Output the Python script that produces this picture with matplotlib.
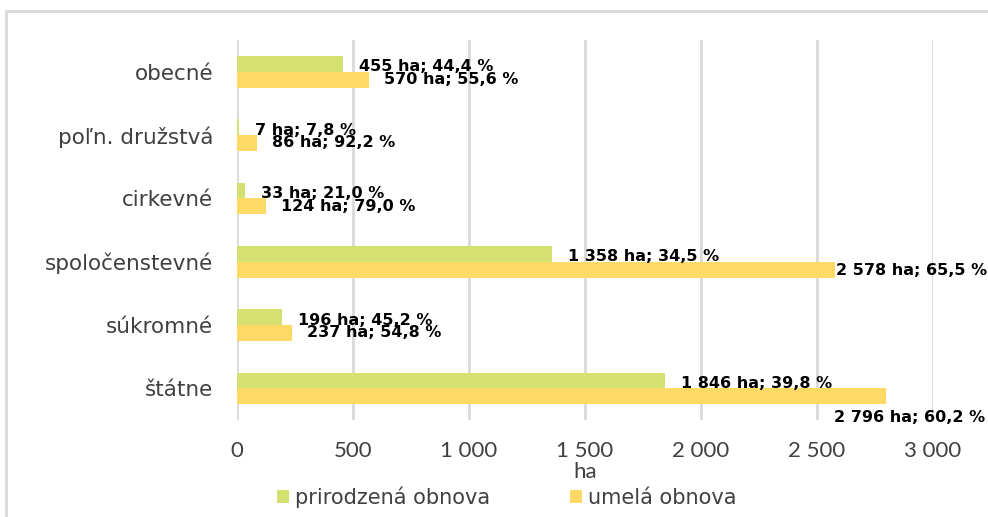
import matplotlib
matplotlib.use("Agg")
import matplotlib.pyplot as plt
from matplotlib.patches import Rectangle
from matplotlib.ticker import FuncFormatter
import numpy as np

# data (bottom to top, as drawn)
categories = ["štátne", "súkromné", "spoločenstevné", "cirkevné", "poľn. družstvá", "obecné"]
natural_ha = [1846, 196, 1358, 33, 7, 455]
natural_pct = ["39,8", "45,2", "34,5", "21,0", "7,8", "44,4"]
artificial_ha = [2796, 237, 2578, 124, 86, 570]
artificial_pct = ["60,2", "54,8", "65,5", "79,0", "92,2", "55,6"]
series_names = ["prirodzená obnova", "umelá obnova"]
x_ticks = [0, 500, 1000, 1500, 2000, 2500, 3000]

green = "#D4E070"
yellow = "#FFD966"
grid_col = "#D9D9D9"
text_col = "#404040"

plt.rcParams["font.family"] = ["DejaVu Sans"]


def fmt_ha(v):
    return "{:,}".format(v).replace(",", " ")


fig = plt.figure(figsize=(9.88, 5.17), dpi=100)
ax = fig.add_axes([237 / 988, 1 - 420 / 517, 696 / 988, 380 / 517])

# outer chart border (cut by the picture edge)
fig.patches.append(Rectangle((6 / 988, -0.1), 1.2, 1 - 11 / 517 + 0.1,
                             transform=fig.transFigure, fill=False,
                             edgecolor=grid_col, linewidth=2))

y = np.arange(len(categories))
h = 0.25
b1 = ax.barh(y + h / 2, natural_ha, height=h, color=green, label=series_names[0], zorder=3)
b2 = ax.barh(y - h / 2, artificial_ha, height=h, color=yellow, label=series_names[1], zorder=3)

ax.set_xlim(0, 3000)
ax.set_ylim(-0.5, len(categories) - 0.5)
ax.set_xticks(x_ticks)
ax.xaxis.set_major_formatter(FuncFormatter(lambda v, p: fmt_ha(int(v))))
ax.set_yticks(y)
ax.set_yticklabels(categories)
ax.tick_params(axis="y", length=0, pad=17, labelsize=15.5, labelcolor=text_col)
ax.tick_params(axis="x", length=0, pad=15, labelsize=16, labelcolor=text_col)
for t in ax.get_xticklabels():
    t.set_fontfamily("Lato")
ax.grid(axis="x", color=grid_col, linewidth=2, zorder=0)
for s in ax.spines.values():
    s.set_visible(False)
ax.set_xlabel("ha", fontsize=16, color=text_col, labelpad=1, fontfamily="Lato")

lab_kw = dict(fontsize=11.5, fontweight="bold", color="black", va="center", zorder=4)
for i in range(len(categories)):
    ax.annotate("{} ha; {} %".format(fmt_ha(natural_ha[i]), natural_pct[i]),
                (natural_ha[i], y[i] + h / 2), xytext=(16, -3),
                textcoords="offset pixels", ha="left", **lab_kw)
    label = "{} ha; {} %".format(fmt_ha(artificial_ha[i]), artificial_pct[i])
    if i == 0:
        # widest label is pushed under its bar, against the right edge
        ax.annotate(label, (artificial_ha[i], y[i] - h / 2), xytext=(99, -21),
                    textcoords="offset pixels", ha="right", **lab_kw)
    elif i == 2:
        ax.annotate(label, (artificial_ha[i], y[i] - h / 2), xytext=(1, -1),
                    textcoords="offset pixels", ha="left", **lab_kw)
    else:
        ax.annotate(label, (artificial_ha[i], y[i] - h / 2), xytext=(15, 0),
                    textcoords="offset pixels", ha="left", **lab_kw)

fig.legend(handles=[b1, b2], labels=series_names, loc="center",
           bbox_to_anchor=(0.513, 1 - 497 / 517), ncol=2, frameon=False,
           fontsize=15, labelcolor=text_col, handlelength=0.6, handleheight=0.6,
           handletextpad=0.3, columnspacing=3.8)

fig.savefig("out.png", dpi=100)
